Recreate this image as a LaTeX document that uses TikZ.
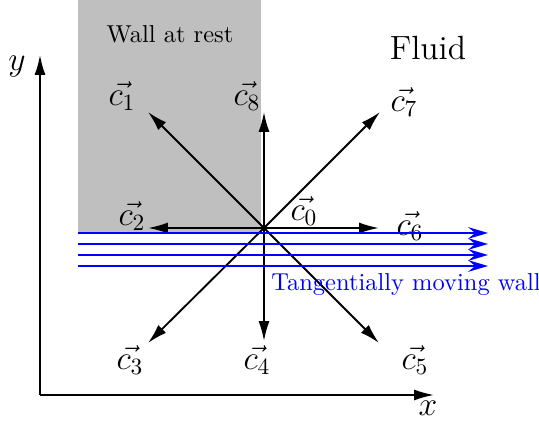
\documentclass[tikz,border=0pt]{standalone}
\usetikzlibrary{arrows.meta}
\begin{document}
\begin{tikzpicture}[x=0.429pt,y=-0.429pt,
  vec/.style={line width=0.8pt,-{Latex[length=8.5pt,width=4.7pt]}},
  flow/.style={blue,line width=0.9pt,-{Stealth[length=8.5pt,width=5pt,inset=3pt]}},
  lab/.style={font=\Large,inner sep=0pt}]
\useasboundingbox (0,0) rectangle (539,425);
\fill[black!25] (78,0) rectangle (261,233);
\node[inner sep=0pt,font=\fontsize{10.5}{12}\selectfont] (wall) at (170,34) {Wall at rest};
\node[inner sep=0pt,font=\Large] (fluid) at (428,48) {Fluid};
% axes
\coordinate (orig) at (40,395);
\coordinate (ytip) at (40,55);
\coordinate (xtip) at (434,395);
\draw[vec] (orig) -- (ytip);
\draw[vec] (orig) -- (xtip);
\node[lab] (ylab) at (17,67) {$y$};
\node[lab] (xlab) at (428,408) {$x$};
% lattice vectors
\coordinate (O) at (264,228);
\coordinate (t1) at (148,112);
\coordinate (t8) at (264,112);
\coordinate (t7) at (380,112);
\coordinate (t2) at (148,228);
\coordinate (t6) at (379,228);
\coordinate (t3) at (148,343);
\coordinate (t4) at (264,341);
\coordinate (t5) at (379,343);
\foreach \t in {t1,t8,t7,t2,t6,t3,t4,t5} \draw[vec] (O) -- (\t);
\node[lab] (c1) at (122,96) {$\vec{c_1}$};
\node[lab] (c8) at (247,96) {$\vec{c_8}$};
\node[lab] (c7) at (404,102) {$\vec{c_7}$};
\node[lab] (c2) at (132,216) {$\vec{c_2}$};
\node[lab] (c0) at (304,211) {$\vec{c_0}$};
\node[lab] (c6) at (410,226) {$\vec{c_6}$};
\node[lab] (c3) at (130,360) {$\vec{c_3}$};
\node[lab] (c4) at (257,360) {$\vec{c_4}$};
\node[lab] (c5) at (415,360) {$\vec{c_5}$};
% moving wall
\foreach \y/\n in {233/a,244/b,255/c,266/d}{
  \coordinate (s\n) at (78,\y);
  \coordinate (e\n) at (488,\y);
  \draw[flow] (s\n) -- (e\n);
}
\node[blue,inner sep=0pt,anchor=west,font=\fontsize{10.5}{12}\selectfont] (mw) at (271,285) {Tangentially moving wall};
\end{tikzpicture}
\end{document}
